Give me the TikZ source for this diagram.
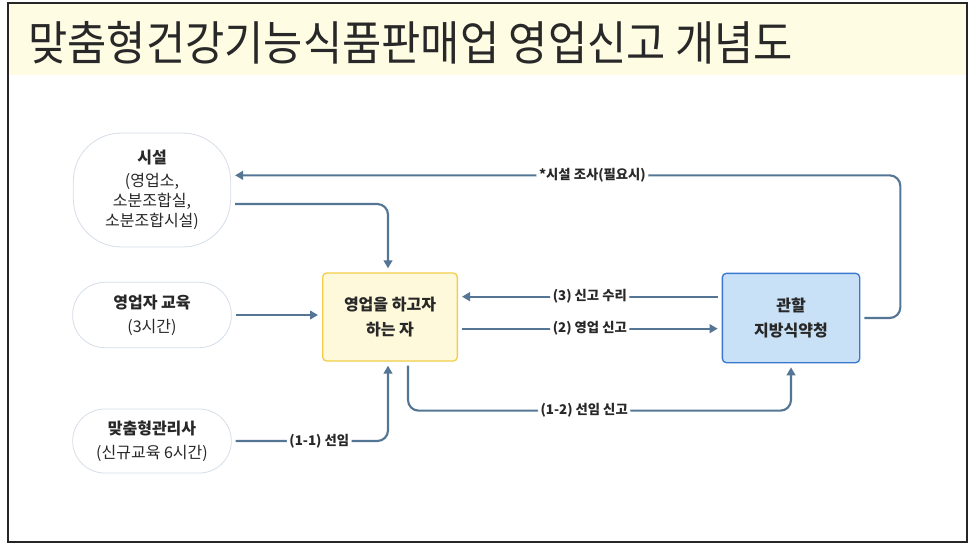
\documentclass[tikz,border=0pt]{standalone}
\usepackage{fontspec}
\setmainfont{Noto Sans CJK KR}
\usetikzlibrary{arrows.meta}

\definecolor{linkblue}{RGB}{84,118,148}
\definecolor{inkgray}{RGB}{40,40,40}
\definecolor{edgegray}{RGB}{214,222,232}
\definecolor{bandyellow}{RGB}{255,252,228}
\definecolor{boxyellow}{RGB}{255,249,219}
\definecolor{lineyellow}{RGB}{242,206,74}
\definecolor{boxblue}{RGB}{201,225,246}
\definecolor{lineblue}{RGB}{58,120,208}

\begin{document}
\begin{tikzpicture}[x=0.75pt,y=-0.75pt,
    soft/.style={draw=edgegray,line width=0.6pt,fill=white,align=center,text=inkgray,
      font=\fontsize{12}{18}\selectfont,rounded corners=#1},
    stepbox/.style={line width=1pt,align=center,text=inkgray,rounded corners=3pt,
      font=\bfseries\fontsize{12}{19}\selectfont},
    conn/.style={draw=linkblue,line width=1.6pt,rounded corners=8pt,
      shorten <=3pt,shorten >=3pt,-{Triangle[length=6pt,width=6.5pt]}},
    lbl/.style={fill=white,inner sep=2pt,text=inkgray,font=\bfseries\fontsize{10}{12}\selectfont}]
  \useasboundingbox (0,0) rectangle (977,556);

  % frame and title band
  \fill[bandyellow] (8,3) rectangle (967,75);
  \draw[line width=1.2pt,black!85] (8,3) rectangle (967,542);
  \draw (28,43) node[anchor=west,text=inkgray,inner sep=0pt,font=\fontsize{32}{38}\selectfont] (title)
    {\scalebox{1}[1.1]{맞춤형건강기능식품판매업 영업신고 개념도}};

  % left column
  \draw
    (152,190) node[soft=36pt,minimum width=118pt,minimum height=85.5pt] (sisul)
      {\textbf{시설}\\[-1pt](영업소,\\[-3pt]소분조합실,\\[-3pt]소분조합시설)}
    (152,315) node[soft=24pt,minimum width=119pt,minimum height=49pt] (edu)
      {\textbf{영업자 교육}\\(3시간)}
    (152,441) node[soft=24pt,minimum width=119pt,minimum height=48pt] (mgr)
      {\textbf{맞춤형관리사}\\(신규교육 6시간)};

  % boxes
  \draw
    (390,317) node[stepbox,draw=lineyellow,fill=boxyellow,minimum width=101pt,minimum height=66pt] (applicant)
      {영업을 하고자\\하는 자}
    (791,318) node[stepbox,draw=lineblue,fill=boxblue,minimum width=103pt,minimum height=67pt] (office)
      {관할\\지방식약청};

  \coordinate (rcv) at ([yshift=16pt]office.west);
  \coordinate (rpt) at ([yshift=-8pt]office.west);

  % connectors
  \draw[conn] ([yshift=-10.5pt]sisul.east) -| ([xshift=-1.5pt]applicant.north);
  \draw[conn] (office.east) -- ++(40,0) |- ([yshift=11pt]sisul.east)
    node[lbl,pos=0.73] {*시설 조사(필요시)};
  \draw[conn] (edu.east) -- (edu.east -| applicant.west);
  \draw[conn] (mgr.east) -| node[lbl,pos=0.28] {(1-1) 선임} ([xshift=-1.5pt]applicant.south);
  \draw[conn] ([xshift=13.5pt]applicant.south) -- ++(0,49) -| node[lbl,pos=0.23] {(1-2) 선임 신고} (office.south);
  \draw[conn] (rcv) -- (rcv -| applicant.east) node[lbl,midway] {(3) 신고 수리};
  \draw[conn] (rpt -| applicant.east) -- (rpt) node[lbl,midway] {(2) 영업 신고};
\end{tikzpicture}
\end{document}
